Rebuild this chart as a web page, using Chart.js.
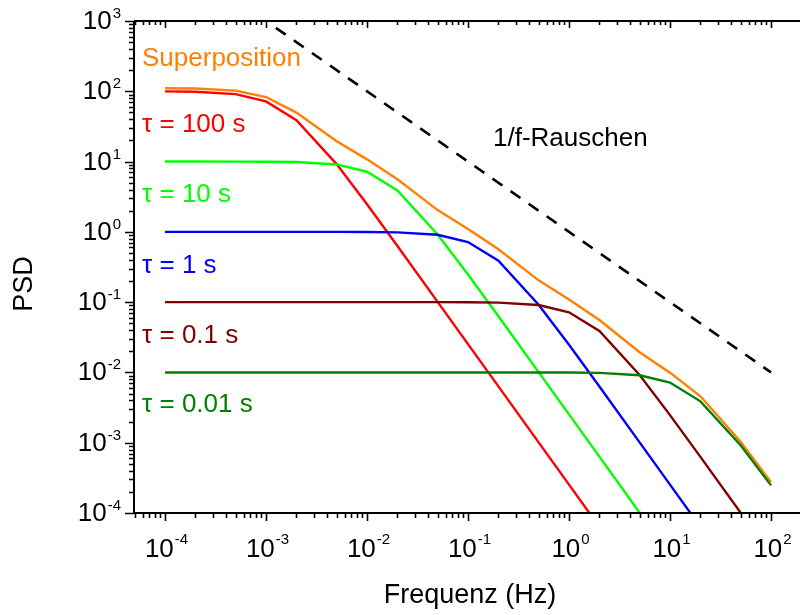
<!DOCTYPE html>
<html lang="de">
<head>
<meta charset="UTF-8">
<title>PSD Lorentz-Spektren</title>
<style>
    body { margin: 0; padding: 0; background: #fff; }
    canvas { display: block; }
</style>
<script src="https://cdn.jsdelivr.net/npm/chart.js@4"></script>
</head>
<body>
<canvas id="psd" width="800" height="615"></canvas>
<script>
// Frequenzen (Hz) und PSD-Werte der einzelnen Zeitkonstanten
const freq = [1e-4, 2e-4, 5e-4, 1e-3, 2e-3, 5e-3, 1e-2, 2e-2, 5e-2, 0.1, 0.2, 0.5, 1, 2, 5, 10, 20, 50, 100];
const tau100 = [99.6, 98.4, 91.0, 71.7, 38.8, 9.2, 2.47, 0.629, 0.101, 0.0253, 0.00633, 0.00101, 2.53e-4, 6.33e-5, 1.01e-5, 2.53e-6, 6.33e-7, 1.01e-7, 2.53e-8];
const tau10 = [10.0, 10.0, 9.99, 9.96, 9.84, 9.10, 7.17, 3.88, 0.920, 0.247, 0.0629, 0.0101, 2.53e-3, 6.33e-4, 1.01e-4, 2.53e-5, 6.33e-6, 1.01e-6, 2.53e-7];
const tau1 = [1.0, 1.0, 1.0, 1.0, 1.0, 0.999, 0.996, 0.984, 0.910, 0.717, 0.388, 0.0920, 0.0247, 0.00629, 0.00101, 2.53e-4, 6.33e-5, 1.01e-5, 2.53e-6];
const tau01 = [0.1, 0.1, 0.1, 0.1, 0.1, 0.1, 0.1, 0.1, 0.0999, 0.0996, 0.0984, 0.0910, 0.0717, 0.0388, 0.0092, 0.00247, 6.29e-4, 1.01e-4, 2.53e-5];
const tau001 = [0.01, 0.01, 0.01, 0.01, 0.01, 0.01, 0.01, 0.01, 0.01, 0.01, 0.01, 0.01, 0.00996, 0.00984, 0.0091, 0.00717, 0.00388, 9.2e-4, 2.47e-4];
const superposition = [110.7, 109.5, 102.1, 82.8, 49.8, 19.4, 10.75, 5.60, 2.04, 1.10, 0.566, 0.204, 0.109, 0.0556, 0.0194, 0.00992, 0.00458, 0.00103, 2.75e-4];
// 1/f-Referenzgerade
const pinkFreq = [1.25e-3, 100];
const pinkPSD = [800, 0.01];

const FONT = "'Liberation Sans', Arial, sans-serif";

const pts = (xs, ys) => xs.map((f, i) => ({ x: f, y: ys[i] }));

function curve(label, ys, color) {
    return {
        label,
        data: pts(freq, ys),
        borderColor: color,
        borderWidth: 2.4,
        pointRadius: 0,
        tension: 0,
        fill: false
    };
}

// Achsen, Ticks, Beschriftungen und Textmarken selbst zeichnen
const axesPlugin = {
    id: 'axesPlugin',
    afterDraw(chart) {
        const { ctx, chartArea: a, scales: { x, y } } = chart;
        ctx.save();
        ctx.strokeStyle = '#000';
        ctx.fillStyle = '#000';

        ctx.lineWidth = 2;
        ctx.beginPath();
        ctx.moveTo(a.left, a.top);
        ctx.lineTo(a.left, a.bottom);
        ctx.lineTo(a.right, a.bottom);
        ctx.moveTo(a.left, a.top);
        ctx.lineTo(a.right, a.top);
        ctx.stroke();

        const decades = (scale) => {
            const out = [];
            const e0 = Math.floor(Math.log10(scale.min));
            const e1 = Math.ceil(Math.log10(scale.max));
            for (let e = e0; e <= e1; e++) {
                for (let m = 1; m <= 9; m++) {
                    const v = m * Math.pow(10, e);
                    if (v >= scale.min * 0.999 && v <= scale.max * 1.001) out.push({ v, e, major: m === 1 });
                }
            }
            return out;
        };

        ctx.lineWidth = 1.6;
        ctx.beginPath();
        decades(x).forEach(t => {
            const px = Math.round(x.getPixelForValue(t.v)) + 0.5;
            const len = t.major ? 8 : 5;
            ctx.moveTo(px, a.bottom);
            ctx.lineTo(px, a.bottom + len);
            ctx.moveTo(px, a.top);
            ctx.lineTo(px, a.top + (t.major ? 7 : 4));
        });
        decades(y).forEach(t => {
            const py = Math.round(y.getPixelForValue(t.v)) + 0.5;
            const len = t.major ? 9 : 5;
            ctx.moveTo(a.left, py);
            ctx.lineTo(a.left - len, py);
        });
        ctx.stroke();

        const base = '26px ' + FONT;
        const sup = '15px ' + FONT;
        ctx.textBaseline = 'alphabetic';
        ctx.textAlign = 'left';

        decades(x).filter(t => t.major).forEach(t => {
            const px = x.getPixelForValue(t.v);
            ctx.font = base;
            const w1 = ctx.measureText('10').width;
            ctx.font = sup;
            const w2 = ctx.measureText(String(t.e)).width;
            const x0 = px - (w1 + w2) / 2 + 1;
            ctx.font = base;
            ctx.fillText('10', x0, 557);
            ctx.font = sup;
            ctx.fillText(String(t.e), x0 + w1 + 1, 544);
        });

        decades(y).filter(t => t.major).forEach(t => {
            const py = y.getPixelForValue(t.v);
            ctx.font = base;
            const w1 = ctx.measureText('10').width;
            ctx.font = sup;
            const w2 = ctx.measureText(String(t.e)).width;
            const x0 = 121 - w2 - w1 - 1;
            ctx.font = base;
            ctx.fillText('10', x0, py + 8);
            ctx.font = sup;
            ctx.fillText(String(t.e), x0 + w1 + 1, py - 3);
        });

        // Achsentitel
        ctx.font = '27px ' + FONT;
        ctx.textAlign = 'center';
        ctx.fillText('Frequenz (Hz)', 470, 603);
        ctx.save();
        ctx.translate(32, 284);
        ctx.rotate(-Math.PI / 2);
        ctx.fillText('PSD', 0, 0);
        ctx.restore();

        // Kurvenbeschriftungen
        const notes = [
            ['Superposition', '#ff8000', 142, 66],
            ['\u03c4 = 100 s', '#ff0000', 142, 132],
            ['\u03c4 = 10 s', '#00ff00', 142, 202],
            ['\u03c4 = 1 s', '#0000ff', 142, 273],
            ['\u03c4 = 0.1 s', '#800000', 142, 343],
            ['\u03c4 = 0.01 s', '#008000', 142, 412],
            ['1/f-Rauschen', '#000000', 493, 146]
        ];
        ctx.font = '26px ' + FONT;
        ctx.textAlign = 'left';
        notes.forEach(([text, color, tx, ty]) => {
            ctx.fillStyle = color;
            ctx.fillText(text, tx, ty);
        });
        ctx.restore();
    }
};

new Chart(document.getElementById('psd'), {
    type: 'line',
    data: {
        datasets: [
            {
                label: '1/f-Rauschen',
                data: pts(pinkFreq, pinkPSD),
                borderColor: '#000',
                borderWidth: 2.6,
                borderDash: [12, 10],
                pointRadius: 0,
                fill: false
            },
            curve('\u03c4 = 0.01 s', tau001, '#008000'),
            curve('\u03c4 = 0.1 s', tau01, '#800000'),
            curve('\u03c4 = 1 s', tau1, '#0000ff'),
            curve('\u03c4 = 10 s', tau10, '#00ff00'),
            curve('\u03c4 = 100 s', tau100, '#ff0000'),
            curve('Superposition', superposition, '#ff8000')
        ]
    },
    options: {
        responsive: false,
        animation: false,
        devicePixelRatio: 1,
        layout: { padding: { left: 134, top: 21, right: 0, bottom: 102 } },
        plugins: { legend: { display: false }, tooltip: { enabled: false } },
        scales: {
            x: { type: 'logarithmic', display: false, min: 4.93e-5, max: 193.6 },
            y: { type: 'logarithmic', display: false, min: 1e-4, max: 1e3 }
        }
    },
    plugins: [axesPlugin]
});
</script>
</body>
</html>
